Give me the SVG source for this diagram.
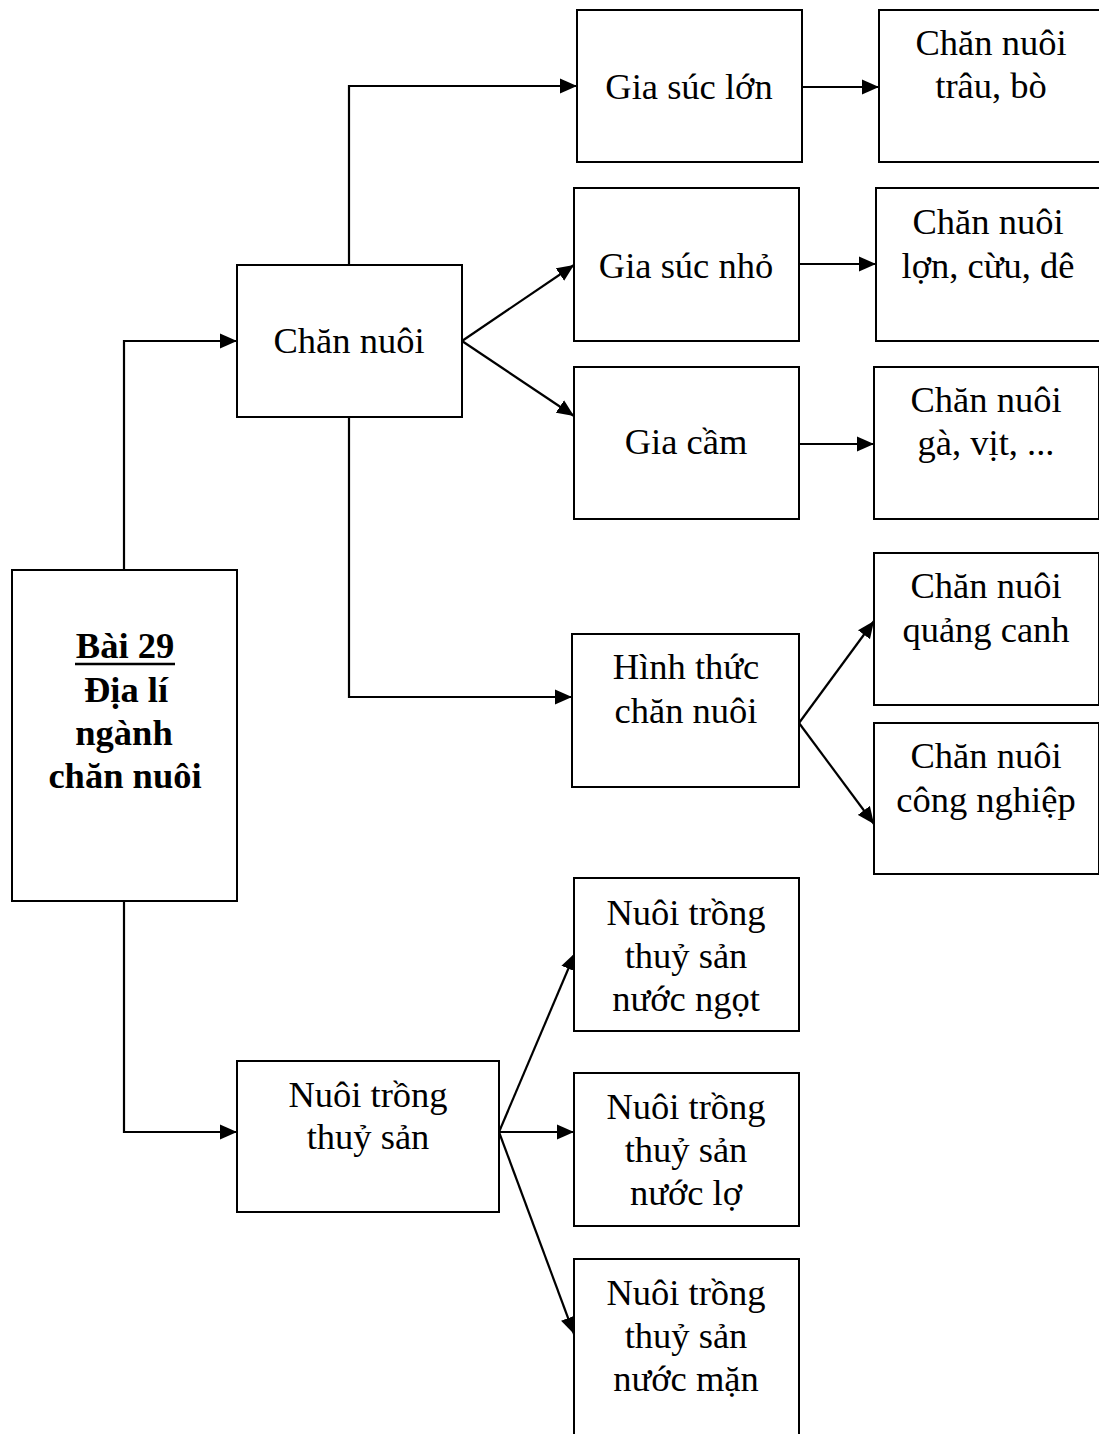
<svg xmlns="http://www.w3.org/2000/svg" width="1099" height="1434" viewBox="0 0 1099 1434">
  <style>
    .box { fill: #ffffff; stroke: #000000; stroke-width: 2; }
    .lbl { font-family: "Liberation Serif", "Times New Roman", serif; font-size: 36.5px; fill: #000000; text-anchor: middle; }
    .bold { font-weight: bold; }
    .edge { fill: none; stroke: #000000; stroke-width: 2.2; marker-end: url(#arrow); }
  </style>
  <defs>
    <marker id="arrow" markerUnits="userSpaceOnUse" markerWidth="18" markerHeight="16" refX="17" refY="8" orient="auto">
      <path d="M0,0.5 L17,8 L0,15.5 z" fill="#000000"/>
    </marker>
  </defs>
  <rect width="1099" height="1434" fill="#ffffff"/>

  <!-- connectors -->
  <g id="connectors">
    <path class="edge" d="M124,570 V341 H237"/>
    <path class="edge" d="M124,901 V1132 H237"/>
    <path class="edge" d="M349,265 V86 H577"/>
    <path class="edge" d="M462,341 L574,265"/>
    <path class="edge" d="M462,341 L574,416"/>
    <path class="edge" d="M349,417 V697 H572"/>
    <path class="edge" d="M802,87 H879"/>
    <path class="edge" d="M799,264 H876"/>
    <path class="edge" d="M799,444 H874"/>
    <path class="edge" d="M799,723 L874,621"/>
    <path class="edge" d="M799,723 L874,824"/>
    <path class="edge" d="M499,1132 L575,953"/>
    <path class="edge" d="M499,1132 H574"/>
    <path class="edge" d="M499,1132 L574,1334"/>
  </g>

  <!-- root topic -->
  <g id="root">
    <rect class="box" x="12" y="570" width="225" height="331"/>
    <text class="lbl bold" x="125" y="658">Bài 29</text>
    <line x1="75" y1="664" x2="175" y2="664" stroke="#000" stroke-width="2.5"/>
    <text class="lbl bold" x="126" y="702">Địa lí</text>
    <text class="lbl bold" x="124" y="745">ngành</text>
    <text class="lbl bold" x="125" y="788">chăn nuôi</text>
  </g>

  <g id="chan-nuoi">
    <rect class="box" x="237" y="265" width="225" height="152"/>
    <text class="lbl" x="349" y="353">Chăn nuôi</text>
  </g>

  <g id="gia-suc-lon">
    <rect class="box" x="577" y="10" width="225" height="152"/>
    <text class="lbl" x="689" y="99">Gia súc lớn</text>
  </g>

  <g id="trau-bo">
    <rect class="box" x="879" y="10" width="225" height="152"/>
    <text class="lbl" x="991" y="55">Chăn nuôi</text>
    <text class="lbl" x="991" y="98">trâu, bò</text>
  </g>

  <g id="gia-suc-nho">
    <rect class="box" x="574" y="188" width="225" height="153"/>
    <text class="lbl" x="686" y="278">Gia súc nhỏ</text>
  </g>

  <g id="lon-cuu-de">
    <rect class="box" x="876" y="188" width="225" height="153"/>
    <text class="lbl" x="988" y="234">Chăn nuôi</text>
    <text class="lbl" x="988" y="278">lợn, cừu, dê</text>
  </g>

  <g id="gia-cam">
    <rect class="box" x="574" y="367" width="225" height="152"/>
    <text class="lbl" x="686" y="454">Gia cầm</text>
  </g>

  <g id="ga-vit">
    <rect class="box" x="874" y="367" width="225" height="152"/>
    <text class="lbl" x="986" y="412">Chăn nuôi</text>
    <text class="lbl" x="986" y="455">gà, vịt, ...</text>
  </g>

  <g id="hinh-thuc">
    <rect class="box" x="572" y="634" width="227" height="153"/>
    <text class="lbl" x="686" y="679">Hình thức</text>
    <text class="lbl" x="686" y="723">chăn nuôi</text>
  </g>

  <g id="quang-canh">
    <rect class="box" x="874" y="553" width="225" height="152"/>
    <text class="lbl" x="986" y="598">Chăn nuôi</text>
    <text class="lbl" x="986" y="642">quảng canh</text>
  </g>

  <g id="cong-nghiep">
    <rect class="box" x="874" y="723" width="225" height="151"/>
    <text class="lbl" x="986" y="768">Chăn nuôi</text>
    <text class="lbl" x="986" y="812">công nghiệp</text>
  </g>

  <g id="thuy-san">
    <rect class="box" x="237" y="1061" width="262" height="151"/>
    <text class="lbl" x="368" y="1107">Nuôi trồng</text>
    <text class="lbl" x="368" y="1149">thuỷ sản</text>
  </g>

  <g id="nuoc-ngot">
    <rect class="box" x="574" y="878" width="225" height="153"/>
    <text class="lbl" x="686" y="925">Nuôi trồng</text>
    <text class="lbl" x="686" y="968">thuỷ sản</text>
    <text class="lbl" x="686" y="1011">nước ngọt</text>
  </g>

  <g id="nuoc-lo">
    <rect class="box" x="574" y="1073" width="225" height="153"/>
    <text class="lbl" x="686" y="1119">Nuôi trồng</text>
    <text class="lbl" x="686" y="1162">thuỷ sản</text>
    <text class="lbl" x="686" y="1205">nước lợ</text>
  </g>

  <g id="nuoc-man">
    <rect class="box" x="574" y="1259" width="225" height="200"/>
    <text class="lbl" x="686" y="1305">Nuôi trồng</text>
    <text class="lbl" x="686" y="1348">thuỷ sản</text>
    <text class="lbl" x="686" y="1391">nước mặn</text>
  </g>
</svg>
